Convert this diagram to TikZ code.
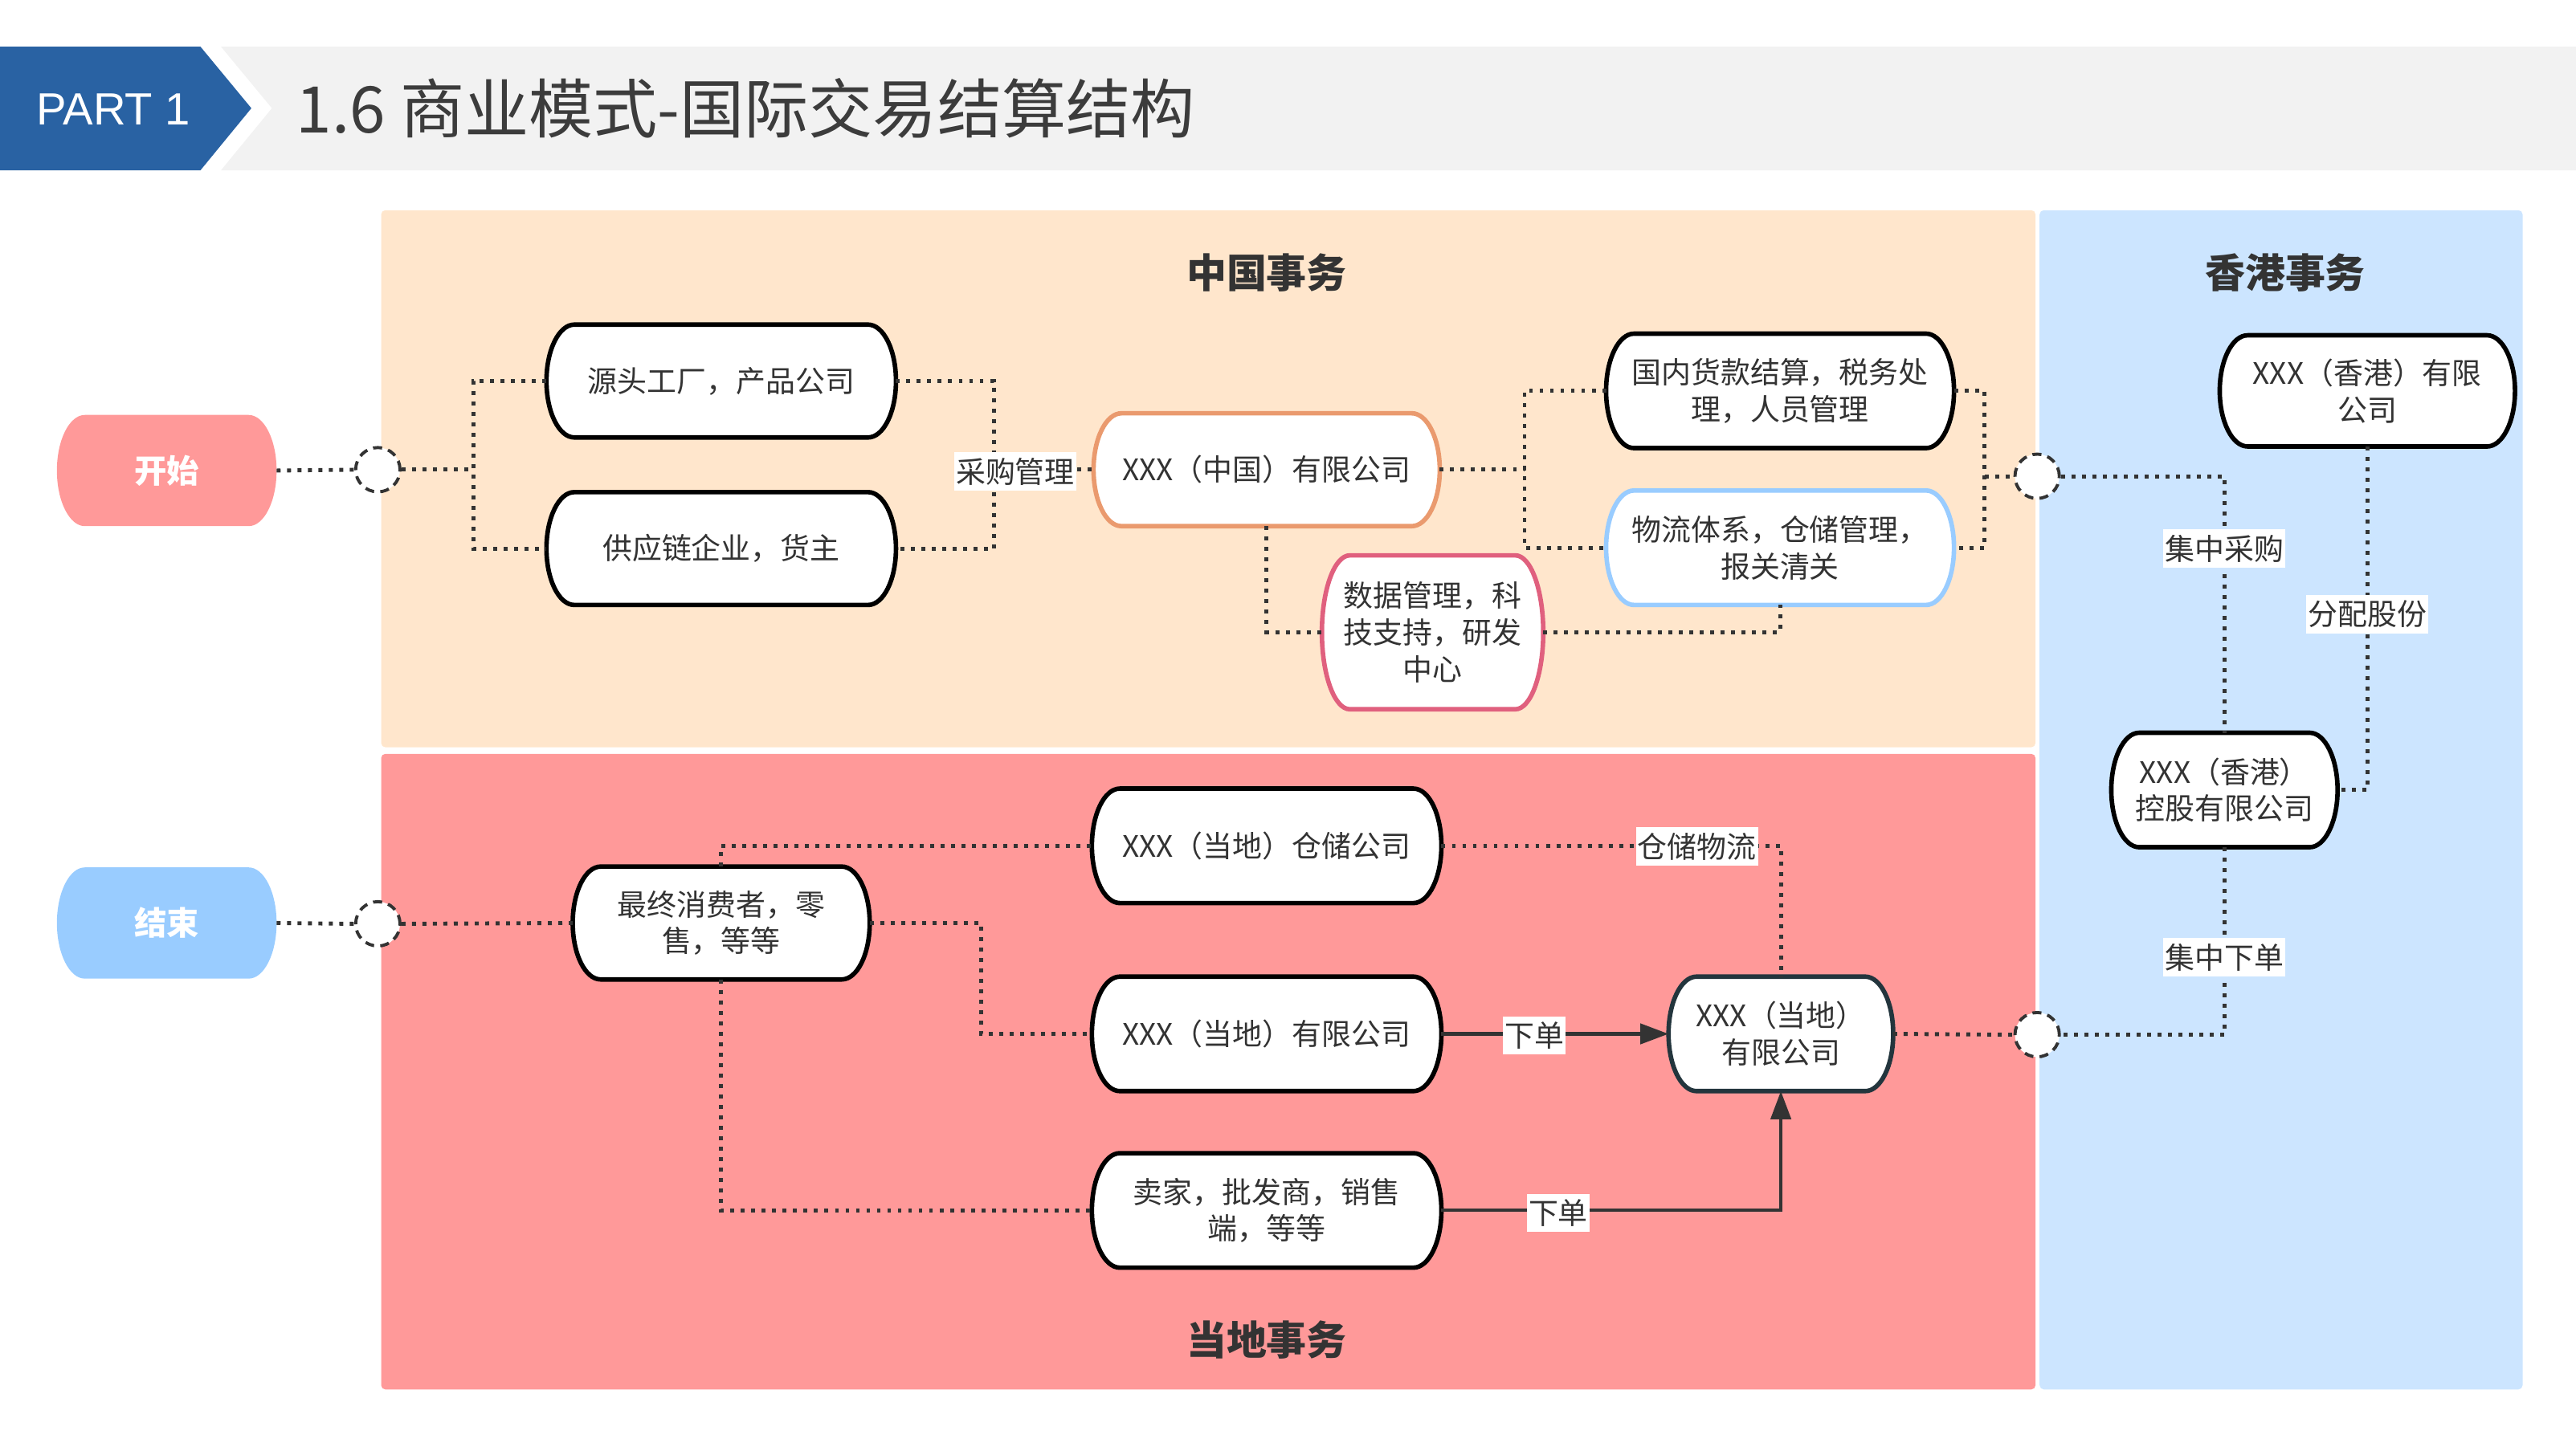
\documentclass[tikz,border=0pt]{standalone}
\usepackage{fontspec}
\setmainfont{Noto Sans CJK SC}
\newfontfamily\latinsans{Liberation Sans}
\usetikzlibrary{calc,arrows.meta}
\definecolor{hdrblue}{HTML}{2962A3}
\definecolor{hdrgray}{HTML}{F2F2F2}
\definecolor{peach}{HTML}{FFE6CC}
\definecolor{salmon}{HTML}{FF9999}
\definecolor{hkblue}{HTML}{CCE5FF}
\definecolor{endblue}{HTML}{99CCFF}
\definecolor{orangeline}{HTML}{EA9A6E}
\definecolor{blueline}{HTML}{99CCFF}
\definecolor{pinkline}{HTML}{E0607E}
\definecolor{hubline}{HTML}{23353D}
\definecolor{txt}{HTML}{333333}
\definecolor{ttl}{HTML}{3C3C3C}
\pgfdeclarelayer{areas}
\pgfdeclarelayer{shapes}
\pgfsetlayers{areas,shapes,main}
\newcommand\pillrx{0.348cm}
\newcommand\pill[2]{\path[#2] let \p1=(#1.south west), \p2=(#1.north east), \n1={0.5*(\y2-\y1)} in
  (\x1+\pillrx,\y2) -- (\x2-\pillrx,\y2)
  arc[start angle=90,end angle=-90,x radius=\pillrx,y radius=\n1]
  -- (\x1+\pillrx,\y1)
  arc[start angle=270,end angle=90,x radius=\pillrx,y radius=\n1] -- cycle;}
\newcommand\nodefont{\fontsize{10.5pt}{13pt}\selectfont}
\tikzset{
  box/.style={rectangle, inner sep=0pt, align=center, font=\nodefont, text=txt},
  bigbox/.style={box, minimum width=4.336cm, minimum height=1.391cm},
  midbox/.style={box, minimum width=2.79cm, minimum height=1.411cm},
  termbox/.style={rectangle, inner sep=0pt, minimum width=2.72cm, minimum height=1.37cm,
    text=white, font=\fontsize{11.5pt}{14pt}\selectfont\bfseries},
  outline/.style={draw=black, line width=1.6pt, fill=white},
  junction/.style={circle, minimum size=0.552cm, inner sep=0pt, draw=txt, fill=white,
    line width=1.1pt, dash pattern=on 3.2pt off 2.2pt},
  dotline/.style={draw=txt, line width=1.4pt, dash pattern=on 1.4pt off 2.3pt},
  solidarrow/.style={draw=txt, line width=1.2pt, -{Triangle[length=0.35cm,width=0.25cm]}},
  lbl/.style={fill=white, inner xsep=0.6pt, inner ysep=2pt, font=\nodefont, text=txt},
  section/.style={font=\fontsize{14.2pt}{17pt}\selectfont\bfseries, text=txt},
}
\begin{document}
\begin{tikzpicture}[x=0.0204528cm, y=-0.0204528cm]
\useasboundingbox (0,0) rectangle (1568,878.6);
% header
\fill[hdrgray] (134.5,28.4) -- (1568,28.4) -- (1568,103.7) -- (134.5,103.7) -- (165.5,65.9) -- cycle;
\fill[hdrblue] (0,28.4) -- (122,28.4) -- (153,65.9) -- (122,103.7) -- (0,103.7) -- cycle;
\node[text=white, font=\latinsans\fontsize{16pt}{18pt}\selectfont] (part) at (69,66.5) {PART 1};
\node[anchor=west, text=ttl, font=\fontsize{22.8pt}{26pt}\selectfont, inner sep=0pt] (title) at (180,66) {1.6 商业模式-国际交易结算结构};
% areas
\begin{pgfonlayer}{areas}
\fill[peach, rounded corners=1.5pt] (232,128) rectangle (1239,455);
\fill[salmon, rounded corners=1.5pt] (232,459) rectangle (1239,846);
\fill[hkblue, rounded corners=1.5pt] (1241.5,128) rectangle (1535.5,846);
\end{pgfonlayer}
\node[section] (secCN) at (771,166) {中国事务};
\node[section] (secHK) at (1391,166) {香港事务};
\node[section] (secLO) at (771,816) {当地事务};
% nodes
\node[termbox] (start) at (101.5,286.5) {开始};
\node[termbox] (end) at (101.5,562) {结束};
\node[junction] (c1) at (230,286) {};
\node[junction] (c4) at (230,562.5) {};
\node[junction] (c2) at (1240,290) {};
\node[junction] (c3) at (1240,630) {};
\node[bigbox] (src) at (439,232) {源头工厂，产品公司};
\node[bigbox] (sup) at (439,334) {供应链企业，货主};
\node[bigbox, minimum width=4.295cm] (cn) at (771,286) {XXX（中国）有限公司};
\node[bigbox, minimum width=4.316cm, minimum height=1.411cm] (dom) at (1083.5,238) {国内货款结算，税务处\\理，人员管理};
\node[bigbox, minimum width=4.316cm, minimum height=1.411cm] (log) at (1083.5,333.5) {物流体系，仓储管理，\\报关清关};
\node[box, minimum width=2.741cm, minimum height=1.902cm] (data) at (872,385) {数据管理，科\\技支持，研发\\中心};
\node[box, minimum width=3.661cm, minimum height=1.37cm] (hk) at (1441,238) {XXX（香港）有限\\公司};
\node[midbox, minimum width=2.802cm] (hkh) at (1354,481) {XXX（香港）\\控股有限公司};
\node[box, minimum width=3.682cm, minimum height=1.391cm] (cons) at (439,562) {最终消费者，零\\售，等等};
\node[bigbox, minimum height=1.411cm] (wh) at (771,515) {XXX（当地）仓储公司};
\node[bigbox, minimum height=1.411cm] (loc) at (771,629.5) {XXX（当地）有限公司};
\node[bigbox, minimum height=1.411cm] (sell) at (771,737) {卖家，批发商，销售\\端，等等};
\node[midbox, minimum width=2.782cm] (hub) at (1084,629.5) {XXX（当地）\\有限公司};
% outlines
\begin{pgfonlayer}{shapes}
\pill{start}{fill=salmon}
\pill{end}{fill=endblue}
\pill{src}{outline}
\pill{sup}{outline}
\pill{cn}{outline, draw=orangeline}
\pill{dom}{outline}
\pill{log}{outline, draw=blueline}
\pill{data}{outline, draw=pinkline}
\pill{hk}{outline}
\pill{hkh}{outline}
\pill{cons}{outline}
\pill{wh}{outline}
\pill{loc}{outline}
\pill{sell}{outline}
\pill{hub}{outline, draw=hubline}
\end{pgfonlayer}
% junction coordinates
\coordinate (j1) at (288,286);
\coordinate (j2) at (605,286);
\coordinate (j3) at (928,286);
\coordinate (j4) at (1208,290);
\coordinate (j5) at (597,562);
% connectors
\draw[dotline] (start.east) -- (c1.west);
\draw[dotline] (c1.east) -- (j1);
\draw[dotline] (src.west) -| (j1) |- (sup.west);
\draw[dotline] (src.east) -| (j2) |- (sup.east);
\draw[dotline] (j2) -- (cn.west);
\draw[dotline] (cn.east) -- (j3);
\draw[dotline] (dom.west) -| (j3) |- (log.west);
\draw[dotline] (dom.east) -| (j4) |- (log.east);
\draw[dotline] (j4) -- (c2.west);
\draw[dotline] (cn.south) |- (data.west);
\draw[dotline] (data.east) -| (log.south);
\draw[dotline] (c2.east) -| (hkh.north);
\draw[dotline] (hk.south) |- (hkh.east);
\draw[dotline] (hkh.south) |- (c3.east);
\draw[dotline] (end.east) -- (c4.west);
\draw[dotline] (c4.east) -- (cons.west);
\draw[dotline] (cons.north) |- (wh.west);
\draw[dotline] (cons.east) -- (j5) |- (loc.west);
\draw[dotline] (cons.south) |- (sell.west);
\draw[dotline] (wh.east) -| (hub.north);
\draw[dotline] (hub.east) -- (c3.west);
\draw[solidarrow] (loc.east) -- (hub.west);
\draw[solidarrow] (sell.east) -| (hub.south);
% labels
\node[lbl] (l1) at (618,287) {采购管理};
\node[lbl] (l2) at (1354,334) {集中采购};
\node[lbl] (l3) at (1441,374) {分配股份};
\node[lbl] (l4) at (1354,583) {集中下单};
\node[lbl] (l5) at (1033,515.5) {仓储物流};
\node[lbl] (l6) at (934,630.5) {下单};
\node[lbl] (l7) at (948.5,738.5) {下单};
\end{tikzpicture}
\end{document}
